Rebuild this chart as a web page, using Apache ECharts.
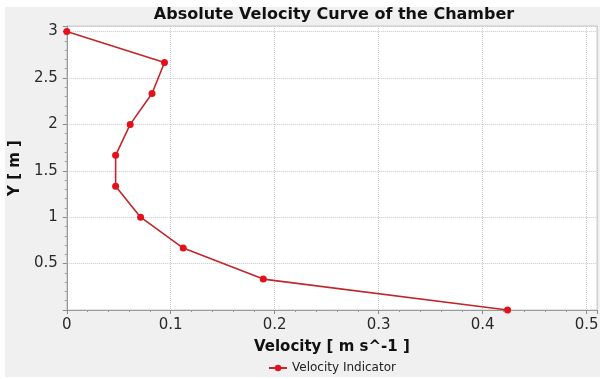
<!DOCTYPE html>
<html>
<head>
<meta charset="utf-8">
<script src="https://cdn.jsdelivr.net/npm/echarts@6/dist/echarts.min.js"></script>
<style>
html, body { margin: 0; padding: 0; background: #fff; }
#bg { position: absolute; left: 5px; top: 7px; width: 595px; height: 370px; background: #f0f0f0; }
#chart { position: absolute; left: 0; top: 0; width: 606px; height: 379px; }
</style>
</head>
<body>
<div id="bg"></div>
<div id="chart"></div>
<script>
// Y positions [m] and absolute velocity [m s^-1]
const heights = [3, 2.667, 2.333, 2, 1.667, 1.333, 1, 0.667, 0.333, 0]
const velocity = [0, 0.094, 0.082, 0.061, 0.047, 0.047, 0.071, 0.112, 0.189, 0.424]
const xTicks = [0, 0.1, 0.2, 0.3, 0.4, 0.5]
const yTicks = [0.5, 1, 1.5, 2, 2.5, 3]

const chart = echarts.init(document.getElementById("chart"))
const font = "DejaVu Sans"

const tickLabel = (list) => (v) => {
	const hit = list.find((t) => Math.abs(t - v) < 1e-9)
	return hit === undefined ? "" : String(hit)
}

const option = {
	backgroundColor: "transparent",
	animation: false,
	title: {
		text: "Absolute Velocity Curve of the Chamber",
		left: 329,
		textAlign: "center",
		top: 2,
		textStyle: { fontFamily: font, fontSize: 16, fontWeight: "bold", color: "#111" }
	},
	legend: {
		top: 357,
		left: 263,
		itemWidth: 18,
		itemHeight: 8,
		itemGap: 4,
		textStyle: { fontFamily: font, fontSize: 12, color: "#222" },
		data: ["Velocity Indicator"]
	},
	grid: {
		left: 61,
		top: 26,
		width: 536,
		height: 284,
		show: true,
		backgroundColor: "#fff",
		borderColor: "#c8c8c8",
		borderWidth: 1,
		containLabel: false
	},
	xAxis: {
		type: "value",
		min: 0,
		max: 0.51,
		interval: 0.1,
		offset: 3,
		name: "Velocity [ m s^-1 ]",
		nameLocation: "middle",
		nameGap: 27,
		nameTextStyle: { fontFamily: font, fontSize: 15, fontWeight: "bold", color: "#111" },
		axisLine: { show: true, lineStyle: { color: "#9a9a9a", width: 1 } },
		axisTick: { show: true, inside: false, length: 4, lineStyle: { color: "#888" } },
		minorTick: { show: true, splitNumber: 5, length: 2, lineStyle: { color: "#999" } },
		axisLabel: {
			fontFamily: font,
			fontSize: 15,
			color: "#2a2a2a",
			margin: 5,
			formatter: tickLabel(xTicks)
		},
		splitLine: { show: true, lineStyle: { color: "#c8c8c8", type: "dotted", width: 1 } }
	},
	yAxis: {
		type: "value",
		min: 0,
		max: 3.06,
		interval: 0.5,
		offset: 3,
		name: "Y [ m ]",
		nameLocation: "middle",
		nameGap: 38,
		nameRotate: 90,
		nameTextStyle: { fontFamily: font, fontSize: 15, fontWeight: "bold", color: "#111" },
		axisLine: { show: true, lineStyle: { color: "#9a9a9a", width: 1 } },
		axisTick: { show: true, inside: false, length: 4, lineStyle: { color: "#888" } },
		minorTick: { show: true, splitNumber: 5, length: 2, lineStyle: { color: "#999" } },
		axisLabel: {
			fontFamily: font,
			fontSize: 15,
			color: "#2a2a2a",
			margin: 6,
			formatter: tickLabel(yTicks)
		},
		splitLine: { show: true, lineStyle: { color: "#c8c8c8", type: "dotted", width: 1 } }
	},
	series: [
		{
			name: "Velocity Indicator",
			type: "line",
			data: velocity.map((v, i) => [v, heights[i]]),
			symbol: "circle",
			symbolSize: 7,
			showAllSymbol: true,
			clip: false,
			lineStyle: { color: "#c0262b", width: 1.6 },
			itemStyle: { color: "#e3121a", borderWidth: 0 }
		}
	]
}
chart.setOption(option)
</script>
</body>
</html>
